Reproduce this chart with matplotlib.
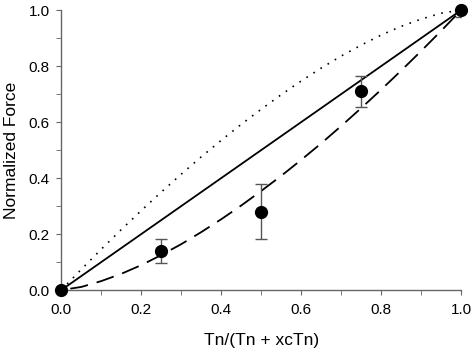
import matplotlib.pyplot as plt
from matplotlib.ticker import MultipleLocator

plt.rcParams['font.family'] = ['Liberation Sans', 'DejaVu Sans']

# curves (x step 0.05)
curve_x = [0.0, 0.05, 0.1, 0.15, 0.2, 0.25, 0.3, 0.35, 0.4, 0.45, 0.5,
           0.55, 0.6, 0.65, 0.7, 0.75, 0.8, 0.85, 0.9, 0.95, 1.0]
solid_y = curve_x
dotted_y = [0.0, 0.074, 0.146, 0.216, 0.284, 0.350, 0.414, 0.476, 0.535, 0.592, 0.646,
            0.698, 0.747, 0.793, 0.836, 0.875, 0.911, 0.942, 0.968, 0.989, 1.0]
dashed_y = [0.0, 0.011, 0.032, 0.058, 0.089, 0.125, 0.164, 0.207, 0.253, 0.302, 0.354,
            0.408, 0.465, 0.524, 0.586, 0.650, 0.716, 0.784, 0.854, 0.926, 1.0]

# measured points
pts_x = [0.0, 0.25, 0.5, 0.75, 1.0]
pts_y = [0.0, 0.14, 0.28, 0.71, 1.0]
pts_err = [0.0, 0.042, 0.097, 0.056, 0.025]

fig = plt.figure(figsize=(4.72, 3.49), dpi=100)
ax = fig.add_axes([0.130, 0.169, 0.847, 0.802])

ax.plot(curve_x, dotted_y, color='black', lw=1.2, linestyle=(0, (1, 4)))
ax.plot(curve_x, solid_y, color='black', lw=1.3)
ax.plot(curve_x, dashed_y, color='black', lw=1.3, linestyle=(10, (10, 5)))

ax.errorbar(pts_x, pts_y, yerr=pts_err, fmt='none', ecolor='#555555',
            elinewidth=1.0, capsize=4, capthick=1.0)
ax.plot(pts_x, pts_y, 'o', color='black', markersize=8.5, clip_on=False, zorder=5)

ax.set_xlim(0, 1)
ax.set_ylim(0, 1)
ax.xaxis.set_major_locator(MultipleLocator(0.2))
ax.xaxis.set_minor_locator(MultipleLocator(0.1))
ax.yaxis.set_major_locator(MultipleLocator(0.2))
ax.yaxis.set_minor_locator(MultipleLocator(0.1))
ax.xaxis.set_major_formatter(plt.FormatStrFormatter('%.1f'))
ax.yaxis.set_major_formatter(plt.FormatStrFormatter('%.1f'))

for s in ['top', 'right']:
    ax.spines[s].set_visible(False)
for s in ['left', 'bottom']:
    ax.spines[s].set_color('#666666')
    ax.spines[s].set_linewidth(1.0)

ax.tick_params(which='both', direction='out', colors='#666666', labelcolor='black',
               labelsize=11, length=3.5)
ax.tick_params(axis='x', which='major', pad=6)
ax.tick_params(axis='y', which='major', pad=5)

ax.set_xlabel('Tn/(Tn + xcTn)', fontsize=12.5)
ax.set_ylabel('Normalized Force', fontsize=12.5)
ax.xaxis.set_label_coords(0.5, -0.155)
ax.yaxis.set_label_coords(-0.106, 0.5)

fig.savefig('out.png', dpi=100)
